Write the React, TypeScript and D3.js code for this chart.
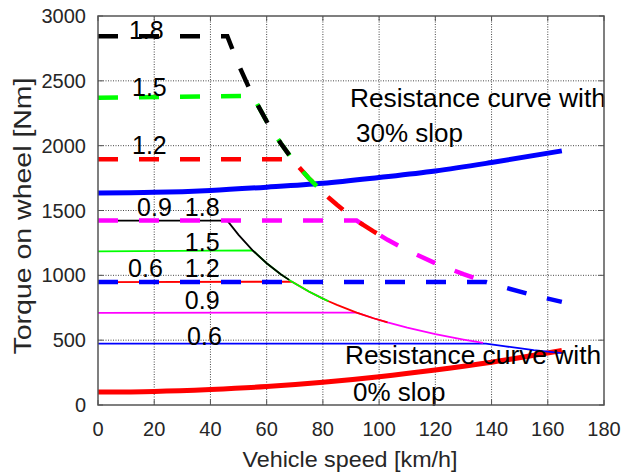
import React from 'react';
import * as d3 from 'd3';

// ---------- data ----------
const xTicks = [0, 20, 40, 60, 80, 100, 120, 140, 160, 180];
const yTicks = [0, 500, 1000, 1500, 2000, 2500, 3000];

// gear ratios, drawn in this order (later ones on top)
const gearRatios = [0.6, 0.9, 1.2, 1.5, 1.8];
const gearColors = ['#0000ff', '#ff00ff', '#ff0000', '#00ff00', '#000000'];
const thinFlatTorque = [474, 711, 948, 1185, 1422];
const thickFlatTorque = [948, 1422, 1896, 2370, 2844];
const baseSpeed = [138, 92, 69, 55, 46];
const maxSpeed = [165, 137, 103, 82, 68];

// constant-power part of the curves
const powerSpeeds = [46, 50, 55, 60, 65, 68, 69, 75, 80, 82, 85, 92, 98, 103, 110, 120, 130, 137, 138, 145, 155, 165];
const thinPowerTorque = [1422, 1312, 1193, 1093, 1009, 965, 951, 875, 820, 800, 772, 713, 669, 637, 596, 547, 505, 479, 474, 452, 423, 400];
const thickPowerTorque = [2844, 2624, 2385, 2187, 2018, 1929, 1896, 1749, 1640, 1600, 1544, 1422, 1339, 1274, 1193, 1093, 1009, 958, 948, 905, 846, 795];

// resistance curves
const resistSpeeds = [0, 20, 40, 60, 80, 100, 120, 140, 165];
const resist30 = [1635, 1640, 1655, 1680, 1710, 1755, 1805, 1870, 1960];
const resist0 = [100, 105, 120, 142, 175, 218, 270, 330, 420];

const W = 622;
const H = 474;
const FONT = '"Liberation Sans", Arial, Helvetica, sans-serif';

export default function App() {
  const x = d3.scaleLinear().domain([0, 180]).range([98, 604]);
  const y = d3.scaleLinear().domain([0, 3000]).range([405, 16]);
  const line = d3.line<[number, number]>().x(d => x(d[0])).y(d => y(d[1]));
  const smooth = d3.line<[number, number]>().x(d => x(d[0])).y(d => y(d[1])).curve(d3.curveMonotoneX);

  const gearPath = (i: number, flat: number[], power: number[]) => {
    const pts: [number, number][] = [[0, flat[i]]];
    powerSpeeds.forEach((v, k) => {
      if (v >= baseSpeed[i] && v <= maxSpeed[i]) pts.push([v, power[k]]);
    });
    return line(pts) || '';
  };

  const r30: [number, number][] = resistSpeeds.map((v, k) => [v, resist30[k]]);
  const r0: [number, number][] = resistSpeeds.map((v, k) => [v, resist0[k]]);

  const numLabels: { t: string; v: number; T: number }[] = [
    { t: '1.8', v: 11.0, T: 2823 },
    { t: '1.5', v: 12.1, T: 2383 },
    { t: '1.2', v: 12.1, T: 1936 },
    { t: '0.9', v: 13.9, T: 1458 },
    { t: '1.8', v: 30.9, T: 1458 },
    { t: '1.5', v: 30.9, T: 1188 },
    { t: '0.6', v: 10.7, T: 987 },
    { t: '1.2', v: 30.9, T: 987 },
    { t: '0.9', v: 30.9, T: 740 },
    { t: '0.6', v: 31.7, T: 463 },
  ];

  return (
    <svg width={W} height={H} style={{ position: 'absolute', left: 0, top: 0, background: '#fff' }} fontFamily={FONT}>
      <rect x={0} y={0} width={W} height={H} fill="#fff" />
      {/* grid */}
      <g stroke="#111" strokeWidth={0.9} strokeDasharray="1,1.5" opacity={0.85}>
        {xTicks.slice(1, -1).map(t => (
          <line key={'gx' + t} x1={x(t)} x2={x(t)} y1={y(0)} y2={y(3000)} />
        ))}
        {yTicks.slice(1, -1).map(t => (
          <line key={'gy' + t} x1={x(0)} x2={x(180)} y1={y(t)} y2={y(t)} />
        ))}
      </g>

      {/* resistance curves */}
      <path d={smooth(r30) || ''} fill="none" stroke="#0000ff" strokeWidth={5} />
      <path d={smooth(r0) || ''} fill="none" stroke="#ff0000" strokeWidth={5} />

      {/* thin curves */}
      {gearRatios.map((g, i) => (
        <path key={'thin' + g} d={gearPath(i, thinFlatTorque, thinPowerTorque)} fill="none" stroke={gearColors[i]} strokeWidth={1.8} />
      ))}
      {/* thick dashed curves */}
      {gearRatios.map((g, i) => (
        <path key={'thick' + g} d={gearPath(i, thickFlatTorque, thickPowerTorque)} fill="none" stroke={gearColors[i]} strokeWidth={4.5} strokeDasharray="20,21" />
      ))}

      {/* annotations */}
      {numLabels.map((l, i) => (
        <text key={'nl' + i} x={x(l.v)} y={y(l.T)} fontSize={25} fill="#000">{l.t}</text>
      ))}
      <text x={x(89.6)} y={y(2298)} fontSize={26} fill="#000" textLength={256} lengthAdjust="spacingAndGlyphs">Resistance curve with</text>
      <text x={x(91.8)} y={y(2028)} fontSize={26} fill="#000">30% slop</text>
      <text x={x(87.9)} y={y(316)} fontSize={26} fill="#000" textLength={256} lengthAdjust="spacingAndGlyphs">Resistance curve with</text>
      <text x={x(90.7)} y={y(31)} fontSize={26} fill="#000">0% slop</text>

      {/* axes box */}
      <rect x={x(0)} y={y(3000)} width={x(180) - x(0)} height={y(0) - y(3000)} fill="none" stroke="#555" strokeWidth={1.5} />
      <g stroke="#555" strokeWidth={1}>
        {xTicks.map(t => (
          <g key={'tx' + t}>
            <line x1={x(t)} x2={x(t)} y1={y(0)} y2={y(0) - 5} />
            <line x1={x(t)} x2={x(t)} y1={y(3000)} y2={y(3000) + 5} />
          </g>
        ))}
        {yTicks.map(t => (
          <g key={'ty' + t}>
            <line x1={x(0)} x2={x(0) + 5} y1={y(t)} y2={y(t)} />
            <line x1={x(180)} x2={x(180) - 5} y1={y(t)} y2={y(t)} />
          </g>
        ))}
      </g>

      {/* tick labels */}
      {xTicks.map(t => (
        <text key={'lx' + t} x={x(t)} y={436} fontSize={20} fill="#262626" textAnchor="middle">{t}</text>
      ))}
      {yTicks.map(t => (
        <text key={'ly' + t} x={86} y={y(t) + 7} fontSize={20} fill="#262626" textAnchor="end">{t}</text>
      ))}

      {/* axis labels */}
      <text x={350} y={467} fontSize={22} fill="#262626" textAnchor="middle" textLength={215} lengthAdjust="spacingAndGlyphs">Vehicle speed [km/h]</text>
      <text transform="translate(31,216) rotate(-90)" x={0} y={0} fontSize={23} fill="#262626" textAnchor="middle" textLength={277} lengthAdjust="spacingAndGlyphs">Torque on wheel [Nm]</text>
    </svg>
  );
}
